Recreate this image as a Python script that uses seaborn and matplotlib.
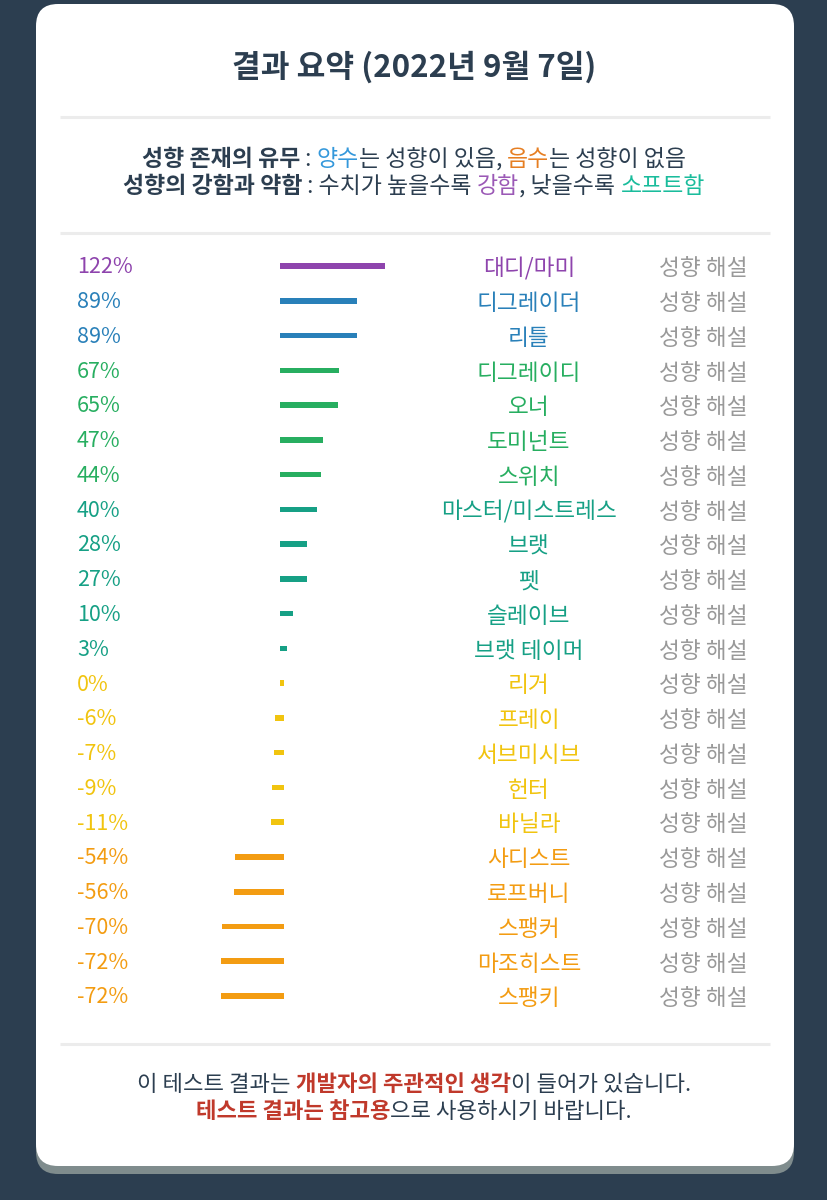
import matplotlib
matplotlib.use('Agg')
import matplotlib.pyplot as plt
import matplotlib.transforms as mtrans
from matplotlib.patches import FancyBboxPatch
import pandas as pd
import seaborn as sns

sns.set_theme(style='white')
plt.rcParams['font.family'] = ['Noto Sans CJK KR', 'DejaVu Sans']

# data
names = ['대디/마미', '디그레이더', '리틀', '디그레이디', '오너', '도미넌트', '스위치',
         '마스터/미스트레스', '브랫', '펫', '슬레이브', '브랫 테이머', '리거', '프레이',
         '서브미시브', '헌터', '바닐라', '사디스트', '로프버니', '스팽커', '마조히스트', '스팽키']
values = [122, 89, 89, 67, 65, 47, 44, 40, 28, 27, 10, 3, 0, -6, -7, -9, -11,
          -54, -56, -70, -72, -72]
colors = ['#8e44ad', '#2980b9', '#2980b9', '#27ae60', '#27ae60', '#27ae60', '#27ae60',
          '#16a085', '#16a085', '#16a085', '#16a085', '#16a085',
          '#f1c40f', '#f1c40f', '#f1c40f', '#f1c40f', '#f1c40f',
          '#f39c12', '#f39c12', '#f39c12', '#f39c12', '#f39c12']
title = '결과 요약 (2022년 9월 7일)'
link_text = '성향 해설'

DARK = '#2c3e50'
RED = '#c0392b'

df = pd.DataFrame({'name': names, 'value': values})

fig = plt.figure(figsize=(8.28, 12), dpi=100)
fig.patch.set_facecolor(DARK)

# background axes in pixel units
bg = fig.add_axes([0, 0, 1, 1])
bg.set_xlim(0, 828)
bg.set_ylim(1200, 0)
bg.axis('off')

bg.add_patch(FancyBboxPatch((36, 12), 758, 1162, boxstyle='round,pad=0,rounding_size=22',
                            fc='#7f8c8d', ec='none'))
bg.add_patch(FancyBboxPatch((36, 4), 758, 1162, boxstyle='round,pad=0,rounding_size=22',
                            fc='white', ec='none'))
for yy in [117, 233, 1044]:
    bg.plot([60, 770], [yy, yy], color='#ececec', lw=2.2, solid_capstyle='butt')

bg.text(414, 67, title, ha='center', va='center', fontsize=22.5, fontweight='bold', color=DARK)

renderer = fig.canvas.get_renderer()


def rich_line(y, parts, size=16.5, cx=414):
    texts = []
    for s, c, w in parts:
        texts.append(bg.text(0, y, s, color=c, fontsize=size, fontweight=w,
                             ha='left', va='baseline'))
    widths = [t.get_window_extent(renderer).width for t in texts]
    x = cx - sum(widths) / 2
    for t, wd in zip(texts, widths):
        t.set_x(x)
        x += wd


rich_line(166, [('성향 존재의 유무', DARK, 'bold'), (' : ', DARK, 'normal'),
                ('양수', '#3498db', 'normal'), ('는 성향이 있음, ', DARK, 'normal'),
                ('음수', '#e67e22', 'normal'), ('는 성향이 없음', DARK, 'normal')])
rich_line(193, [('성향의 강함과 약함', DARK, 'bold'), (' : 수치가 높을수록 ', DARK, 'normal'),
                ('강함', '#9b59b6', 'normal'), (', 낮을수록 ', DARK, 'normal'),
                ('소프트함', '#1abc9c', 'normal')])
rich_line(1091, [('이 테스트 결과는 ', DARK, 'normal'), ('개발자의 주관적인 생각', RED, 'bold'),
                 ('이 들어가 있습니다.', DARK, 'normal')], size=16)
rich_line(1118, [('테스트 결과는 참고용', RED, 'bold'),
                 ('으로 사용하시기 바랍니다.', DARK, 'normal')], size=16)

# bar axes: zero at x=282px, 0.82 px per percent, rows 34.76 px apart from y=266
ax = fig.add_axes([60 / 828, 1 - 1020 / 1200, 710 / 828, 775 / 1200])
ax.patch.set_alpha(0)
sns.barplot(data=df, x='value', y='name', hue='name', palette=dict(zip(names, colors)),
            orient='h', width=0.16, saturation=1, legend=False, linewidth=0, ax=ax)
# square end caps (about 2.5 px each side), so the 0% bar shows as a small dot
cap = 3.0
for p in ax.patches:
    w = p.get_width()
    if w >= 0:
        p.set_x(p.get_x() - cap)
        p.set_width(w + 2 * cap)
    else:
        p.set_x(p.get_x() + cap)
        p.set_width(w - 2 * cap)
ax.set_xlim(-270.7, 595)
ax.set_ylim(21.69, -0.604)
ax.axis('off')

tr = mtrans.blended_transform_factory(bg.transData, ax.transData)
for i, (n, v, c) in enumerate(zip(names, values, colors)):
    ax.text(77, i + 0.04, f'{v}%', transform=tr, ha='left', va='center', fontsize=15.5, color=c)
    ax.text(529, i + 0.08, n, transform=tr, ha='center', va='center', fontsize=16.3, color=c)
    ax.text(703, i + 0.08, link_text, transform=tr, ha='center', va='center', fontsize=16.3,
            color='#999999')

fig.savefig('out.png', dpi=100, facecolor=fig.get_facecolor())
